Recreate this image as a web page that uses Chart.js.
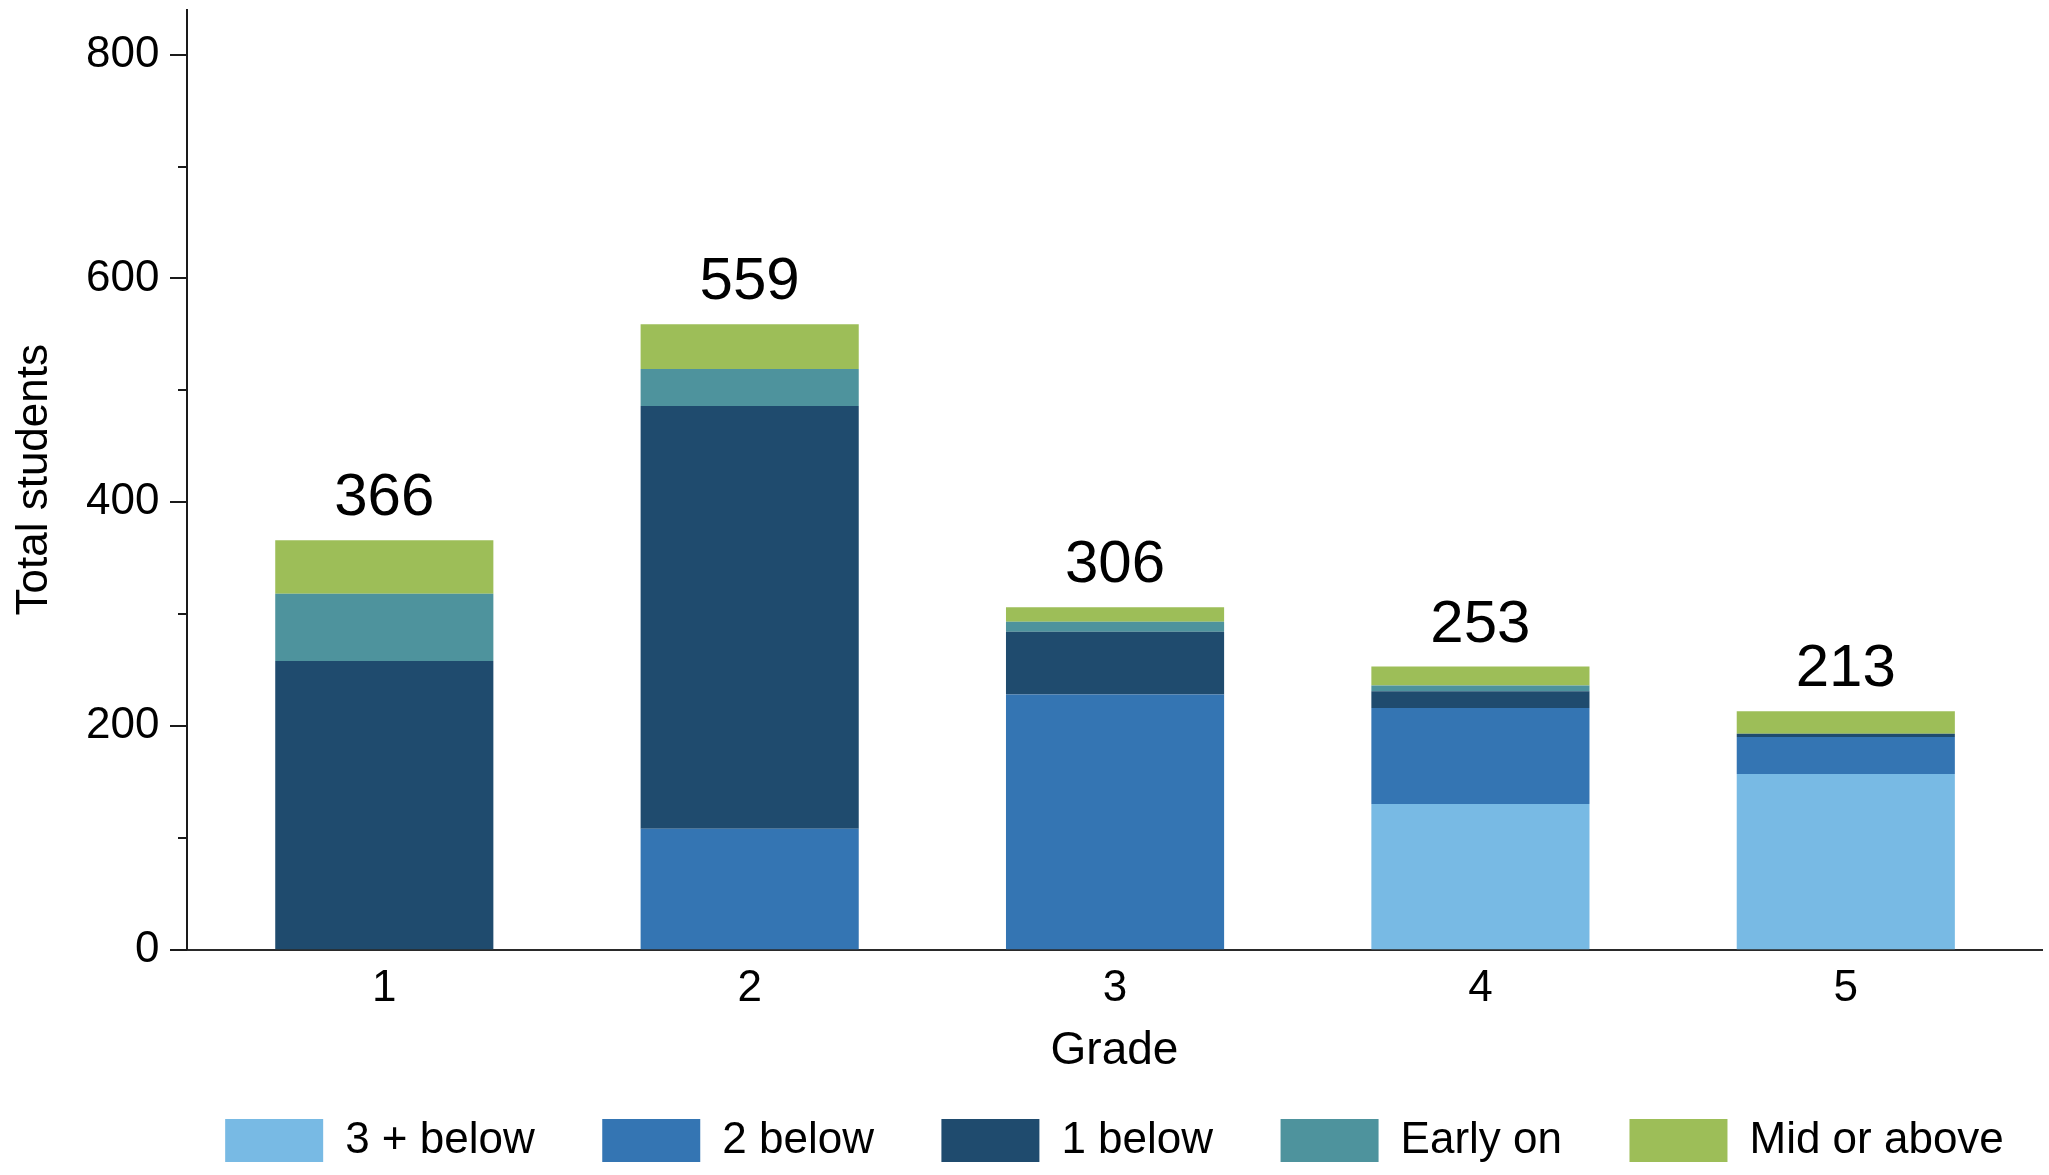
<!DOCTYPE html>
<html>
<head>
<meta charset="utf-8">
<title>Total students by grade</title>
<script src="https://cdn.jsdelivr.net/npm/chart.js@4.4.1/dist/chart.umd.min.js"></script>
<style>
  html, body { margin: 0; padding: 0; background: #ffffff; }
  canvas { display: block; }
</style>
</head>
<body>
<canvas id="chart" width="2049" height="1175"></canvas>
<script>
// Students per grade, split by how far they are from grade level (bottom to top of each stack)
const grades      = [1, 2, 3, 4, 5];
const threeBelow  = [0, 0, 0, 130, 157];
const twoBelow    = [0, 108, 228, 86, 33];
const oneBelow    = [258, 378, 56, 15, 3];
const earlyOn     = [60, 33, 9, 5, 0];
const midOrAbove  = [48, 40, 13, 17, 20];
const totals      = [366, 559, 306, 253, 213];

const seriesNames = ['3 + below', '2 below', '1 below', 'Early on', 'Mid or above'];
const yTicks      = [0, 200, 400, 600, 800];
const yMinorTicks = [100, 300, 500, 700];

const FONT = "'Liberation Sans', Arial, Helvetica, sans-serif";
Chart.defaults.font.family = FONT;
Chart.defaults.color = '#000000';

const colors = ['#78bae4', '#3475b3', '#1f4b6e', '#4e939d', '#9dbe58'];
const seriesValues = [threeBelow, twoBelow, oneBelow, earlyOn, midOrAbove];

const datasets = seriesValues.map((vals, s) => ({
  label: seriesNames[s],
  data: grades.map((g, i) => ({ x: g, y: vals[i] })),
  backgroundColor: colors[s],
  borderWidth: 0,
  barPercentage: 0.597,
  categoryPercentage: 1.0
}));

// Total written above each stack
const totalLabels = {
  id: 'totalLabels',
  afterDatasetsDraw(chart) {
    const { ctx, scales: { x, y } } = chart;
    ctx.save();
    ctx.font = '60px ' + FONT;
    ctx.fillStyle = '#000000';
    ctx.textAlign = 'center';
    ctx.textBaseline = 'alphabetic';
    totals.forEach((t, i) => {
      ctx.fillText(String(t), x.getPixelForValue(grades[i]), y.getPixelForValue(t) - 25);
    });
    ctx.restore();
  }
};

// Outward tick marks on the value axis: long at labelled values, short in between
const axisTicks = {
  id: 'axisTicks',
  afterDraw(chart) {
    const { ctx, scales: { y }, chartArea } = chart;
    ctx.save();
    ctx.strokeStyle = '#1a1a1a';
    ctx.lineWidth = 2;
    const draw = (v, len) => {
      const py = Math.round(y.getPixelForValue(v));
      ctx.beginPath();
      ctx.moveTo(chartArea.left - len, py);
      ctx.lineTo(chartArea.left, py);
      ctx.stroke();
    };
    yTicks.forEach(v => draw(v, 17));
    yMinorTicks.forEach(v => draw(v, 9));
    ctx.restore();
  }
};

// Keep the legend row centred under the plot area rather than the whole canvas
const legendUnderPlot = {
  id: 'legendUnderPlot',
  afterLayout(chart) {
    const lg = chart.legend;
    if (!lg) return;
    const cx = (chart.chartArea.left + chart.chartArea.right) / 2;
    const w = 1914;
    lg.left = cx - w / 2;
    lg.right = cx + w / 2;
    lg.width = w;
  }
};

const noEdgePadding = scale => {
  scale.paddingTop = 0;
  scale.paddingBottom = 0;
  scale.paddingLeft = 0;
  scale.paddingRight = 0;
};

new Chart(document.getElementById('chart'), {
  type: 'bar',
  data: { datasets },
  options: {
    responsive: false,
    animation: false,
    devicePixelRatio: 1,
    layout: { padding: { top: 10, right: 7, bottom: 2.5, left: 0 } },
    plugins: {
      tooltip: { enabled: false },
      legend: {
        position: 'bottom',
        labels: {
          font: { size: 44, family: FONT },
          color: '#000000',
          boxWidth: 98,
          boxHeight: 43,
          padding: 67.5
        }
      }
    },
    scales: {
      x: {
        type: 'linear',
        stacked: true,
        offset: false,
        min: 0.46,
        max: 5.537,
        grid: { display: false, drawTicks: false },
        border: { display: true, color: '#2a2a2a', width: 2 },
        afterBuildTicks(scale) { scale.ticks = grades.map(v => ({ value: v })); },
        afterFit(scale) { scale.height = 101.5; noEdgePadding(scale); },
        ticks: {
          font: { size: 44, family: FONT },
          color: '#000000',
          padding: 13,
          autoSkip: false,
          maxRotation: 0,
          callback: v => String(v)
        },
        title: {
          display: true,
          text: 'Grade',
          color: '#000000',
          font: { size: 46, family: FONT },
          padding: { top: 0, bottom: -28 }
        }
      },
      y: {
        stacked: true,
        min: 0,
        max: 840,
        grid: { display: false, drawTicks: false },
        border: { display: true, color: '#1a1a1a', width: 2 },
        afterBuildTicks(scale) { scale.ticks = yTicks.map(v => ({ value: v })); },
        afterFit(scale) { scale.width = 187; noEdgePadding(scale); },
        ticks: {
          font: { size: 44, family: FONT },
          color: '#000000',
          padding: 27.5
        },
        title: {
          display: true,
          text: 'Total students',
          color: '#000000',
          font: { size: 44, family: FONT },
          padding: { top: 8.4, bottom: 0 }
        }
      }
    }
  },
  plugins: [totalLabels, axisTicks, legendUnderPlot]
});
</script>
</body>
</html>
